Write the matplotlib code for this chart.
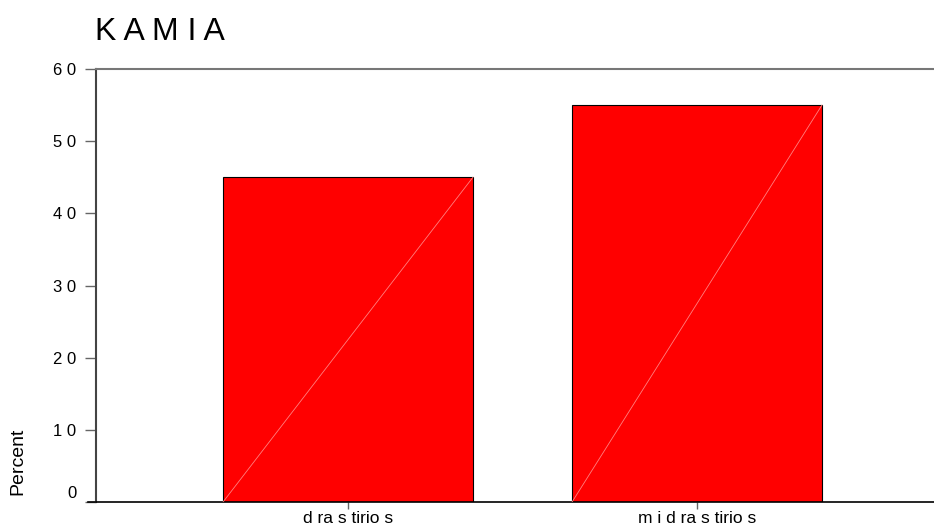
import matplotlib
matplotlib.use("Agg")
import matplotlib.pyplot as plt
from matplotlib.transforms import ScaledTranslation

plt.rcParams['font.family'] = ['Liberation Sans', 'DejaVu Sans']

categories = ["d ra s tirio s", "m i d ra s tirio s"]
values = [45, 55]
yticks = [0, 10, 20, 30, 40, 50, 60]
ytick_labels = ["0", "1 0", "2 0", "3 0", "4 0", "5 0", "6 0"]
title = "K A M I A"
ylabel = "Percent"

W, H = 934, 527
fig = plt.figure(figsize=(W / 100, H / 100), dpi=100)
left, right, top, bottom = 96, 934, 69, 502
ax = fig.add_axes([left / W, (H - bottom) / H, (right - left) / W, (bottom - top) / H])

x = list(range(len(categories)))
width = 0.716
ax.bar(x, values, width=width, color='#ff0000', edgecolor='black', linewidth=0.8, zorder=2)
for xi, v in zip(x, values):
    ax.plot([xi - width / 2, xi + width / 2], [0, v], color='#ff8080', linewidth=0.6, zorder=3)

ax.set_xlim(-0.722, 1.679)
ax.set_ylim(0, 60)
ax.set_yticks(yticks)
ax.set_yticklabels(ytick_labels, fontsize=12)
ax.set_xticks(x)
ax.set_xticklabels(categories, fontsize=12.5)

ax.tick_params(axis='y', length=8, width=1, color='#666666', pad=6)
ax.tick_params(axis='x', length=5, width=1, color='#666666', pad=1.5)

# shift the "0" label upward as in the reference
lbl0 = ax.get_yticklabels()[0]
lbl0.set_transform(lbl0.get_transform() + ScaledTranslation(0, 10 / 100, fig.dpi_scale_trans))

ax.spines['left'].set_color('#444444')
ax.spines['left'].set_linewidth(1.5)
ax.spines['top'].set_color('#777777')
ax.spines['top'].set_linewidth(1.5)
ax.spines['bottom'].set_color('black')
ax.spines['bottom'].set_linewidth(1.2)
ax.spines['right'].set_visible(False)

# extend bottom line slightly to the left like the reference
ax.plot([-0.745, -0.722], [0, 0], color='black', linewidth=1.2, clip_on=False)

fig.text(95 / W, (H - 40) / H, title, fontsize=23, va='baseline', ha='left')
fig.text(18 / W, (H - 461) / H, ylabel, fontsize=14, rotation=90, va='center', ha='center')

fig.savefig("out.png", dpi=100)
